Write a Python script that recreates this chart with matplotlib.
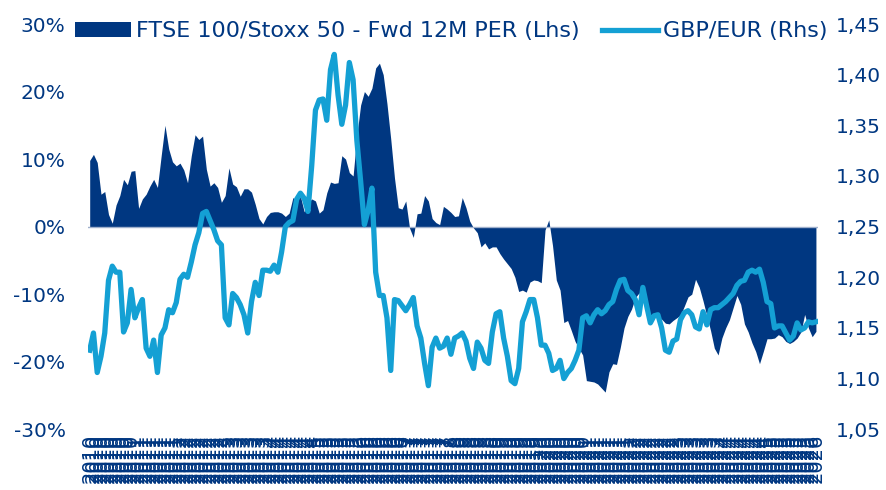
import matplotlib.pyplot as plt
from matplotlib.patches import Patch
from matplotlib.lines import Line2D

plt.rcParams['font.family'] = ['DejaVu Sans']

# monthly observations, Jan 2010 - Feb 2026
years = [str(2010 + i // 12) for i in range(194)]

# FTSE 100 / Stoxx 50 relative fwd 12M PER (%), left axis
per_rel = [
    9.8, 10.7, 9.5, 4.8, 5.2, 1.8, 0.5, 3.2, 4.6, 7.0, 6.2, 8.2,
    8.3, 2.7, 4.1, 4.8, 6.0, 7.0, 5.8, 10.5, 15.0, 11.5, 9.6, 9.0,
    9.4, 8.4, 6.5, 10.5, 13.6, 12.9, 13.4, 8.5, 6.0, 6.5, 5.8, 3.6,
    4.6, 8.7, 6.3, 5.9, 4.5, 5.6, 5.6, 5.1, 3.3, 1.2, 0.4, 1.5,
    2.1, 2.2, 2.2, 2.0, 1.5, 2.0, 4.3, 3.9, 4.5, 2.2, 3.5, 4.1,
    3.8, 2.0, 2.5, 5.0, 6.6, 6.4, 6.5, 10.5, 10.0, 8.0, 7.5, 13.5,
    18.0, 20.0, 19.3, 20.5, 23.5, 24.2, 22.5, 18.2, 13.0, 7.2, 2.8, 2.6,
    3.8, -0.2, -1.6, 1.9, 2.0, 4.6, 3.8, 1.2, 0.6, 0.3, 3.0, 2.6,
    2.1, 1.5, 1.6, 4.3, 2.8, 0.8, -0.2, -0.9, -3.0, -2.4, -3.3, -3.0,
    -3.0, -4.0, -4.8, -5.5, -6.2, -7.5, -9.6, -9.4, -9.7, -8.2, -7.9, -8.0,
    -8.3, -0.5, 1.0, -2.8, -7.9, -9.4, -14.2, -13.9, -15.4, -17.0, -18.0, -19.0,
    -22.8, -22.9, -23.0, -23.3, -23.9, -24.5, -21.5, -20.3, -20.4, -17.9, -15.0, -13.3,
    -12.2, -10.5, -9.8, -11.0, -12.5, -13.0, -13.4, -13.4, -13.7, -14.3, -14.4, -13.9,
    -13.5, -13.1, -11.8, -10.4, -10.0, -7.8, -9.0, -11.0, -13.2, -15.4, -18.0, -19.0,
    -16.5, -15.0, -13.8, -12.0, -10.2, -11.5, -14.4, -15.6, -17.2, -18.5, -20.3, -18.5,
    -16.6, -16.6, -16.5, -16.0, -16.3, -17.0, -17.3, -17.0, -16.5, -15.6, -13.0, -15.0,
    -16.3, -15.5,
]

# GBP/EUR, right axis
gbp_eur = [
    1.128, 1.145, 1.106, 1.122, 1.145, 1.197, 1.211, 1.205, 1.205, 1.146, 1.155, 1.188,
    1.160, 1.170, 1.178, 1.130, 1.122, 1.138, 1.106, 1.143, 1.150, 1.168, 1.165, 1.175,
    1.198, 1.203, 1.200, 1.215, 1.232, 1.244, 1.263, 1.265, 1.256, 1.247, 1.236, 1.232,
    1.160, 1.153, 1.184, 1.180, 1.173, 1.163, 1.145, 1.176, 1.195, 1.182, 1.207, 1.207,
    1.206, 1.212, 1.205, 1.225, 1.250, 1.254, 1.256, 1.277, 1.283, 1.278, 1.265, 1.310,
    1.365, 1.375, 1.376, 1.355, 1.405, 1.420, 1.380, 1.351, 1.370, 1.412, 1.395, 1.335,
    1.295, 1.252, 1.266, 1.288, 1.205, 1.182, 1.182, 1.160, 1.108, 1.178, 1.177, 1.172,
    1.167, 1.173, 1.180, 1.152, 1.140, 1.115, 1.093, 1.131, 1.140, 1.130, 1.132, 1.140,
    1.124, 1.140, 1.142, 1.145, 1.137, 1.120, 1.110, 1.136, 1.130, 1.118, 1.115, 1.146,
    1.164, 1.166, 1.140, 1.122, 1.098, 1.095, 1.110, 1.156, 1.166, 1.178, 1.178, 1.160,
    1.133, 1.133, 1.125, 1.108, 1.110, 1.118, 1.100, 1.106, 1.110, 1.118, 1.128, 1.160,
    1.162, 1.155, 1.163, 1.168, 1.164, 1.167, 1.173, 1.176, 1.188, 1.197, 1.198, 1.187,
    1.184, 1.178, 1.163, 1.190, 1.172, 1.155, 1.162, 1.163, 1.150, 1.128, 1.126, 1.137,
    1.139, 1.158, 1.165, 1.167, 1.163, 1.151, 1.149, 1.166, 1.153, 1.168, 1.170, 1.170,
    1.173, 1.176, 1.180, 1.184, 1.192, 1.196, 1.197, 1.205, 1.207, 1.205, 1.208, 1.195,
    1.176, 1.174, 1.150, 1.152, 1.152, 1.145, 1.138, 1.142, 1.155, 1.148, 1.150, 1.156,
    1.155, 1.156,
]

navy = '#003781'
light = '#14A0D4'
x = list(range(len(per_rel)))

fig = plt.figure(figsize=(8.87, 4.90), dpi=100)
ax = fig.add_axes([0.099, 0.124, 0.823, 0.827])
ax2 = ax.twinx()

ax.fill_between(x, 0, per_rel, color=navy, linewidth=0)
ax.axhline(0, color='#9fb0cc', linewidth=1)
ax2.plot(x, gbp_eur, color=light, linewidth=3.8, solid_joinstyle='round')

ax.set_xlim(-0.5, len(x) - 0.5)
ax.set_ylim(-30, 30)
ax.set_yticks(range(-30, 31, 10))
ax.set_yticklabels([f'{v}%' for v in range(-30, 31, 10)])
ax2.set_ylim(1.05, 1.45)
rt = [1.05 + 0.05 * i for i in range(9)]
ax2.set_yticks(rt)
ax2.set_yticklabels([f'{v:.2f}'.replace('.', ',') for v in rt])

ax.set_xticks(x)
ax.set_xticklabels(years, rotation=90, fontsize=14, color=navy)

for a in (ax, ax2):
    for s in a.spines.values():
        s.set_visible(False)
    a.tick_params(length=0, labelsize=14.5, labelcolor=navy)
ax.tick_params(axis='y', pad=16)
ax2.tick_params(axis='y', pad=13)
ax.tick_params(axis='x', labelsize=14, pad=3)

handles = [Patch(facecolor=navy, edgecolor='none'),
           Line2D([0], [0], color=light, linewidth=3.8)]
fig.legend(handles, ['FTSE 100/Stoxx 50 - Fwd 12M PER (Lhs)', 'GBP/EUR (Rhs)'],
           loc='center', bbox_to_anchor=(0.509, 0.936), ncol=2, frameon=False,
           fontsize=16, labelcolor=navy, handlelength=2.5, handletextpad=0.25,
           columnspacing=1.0, borderaxespad=0, borderpad=0)

fig.savefig('out.png', dpi=100)
